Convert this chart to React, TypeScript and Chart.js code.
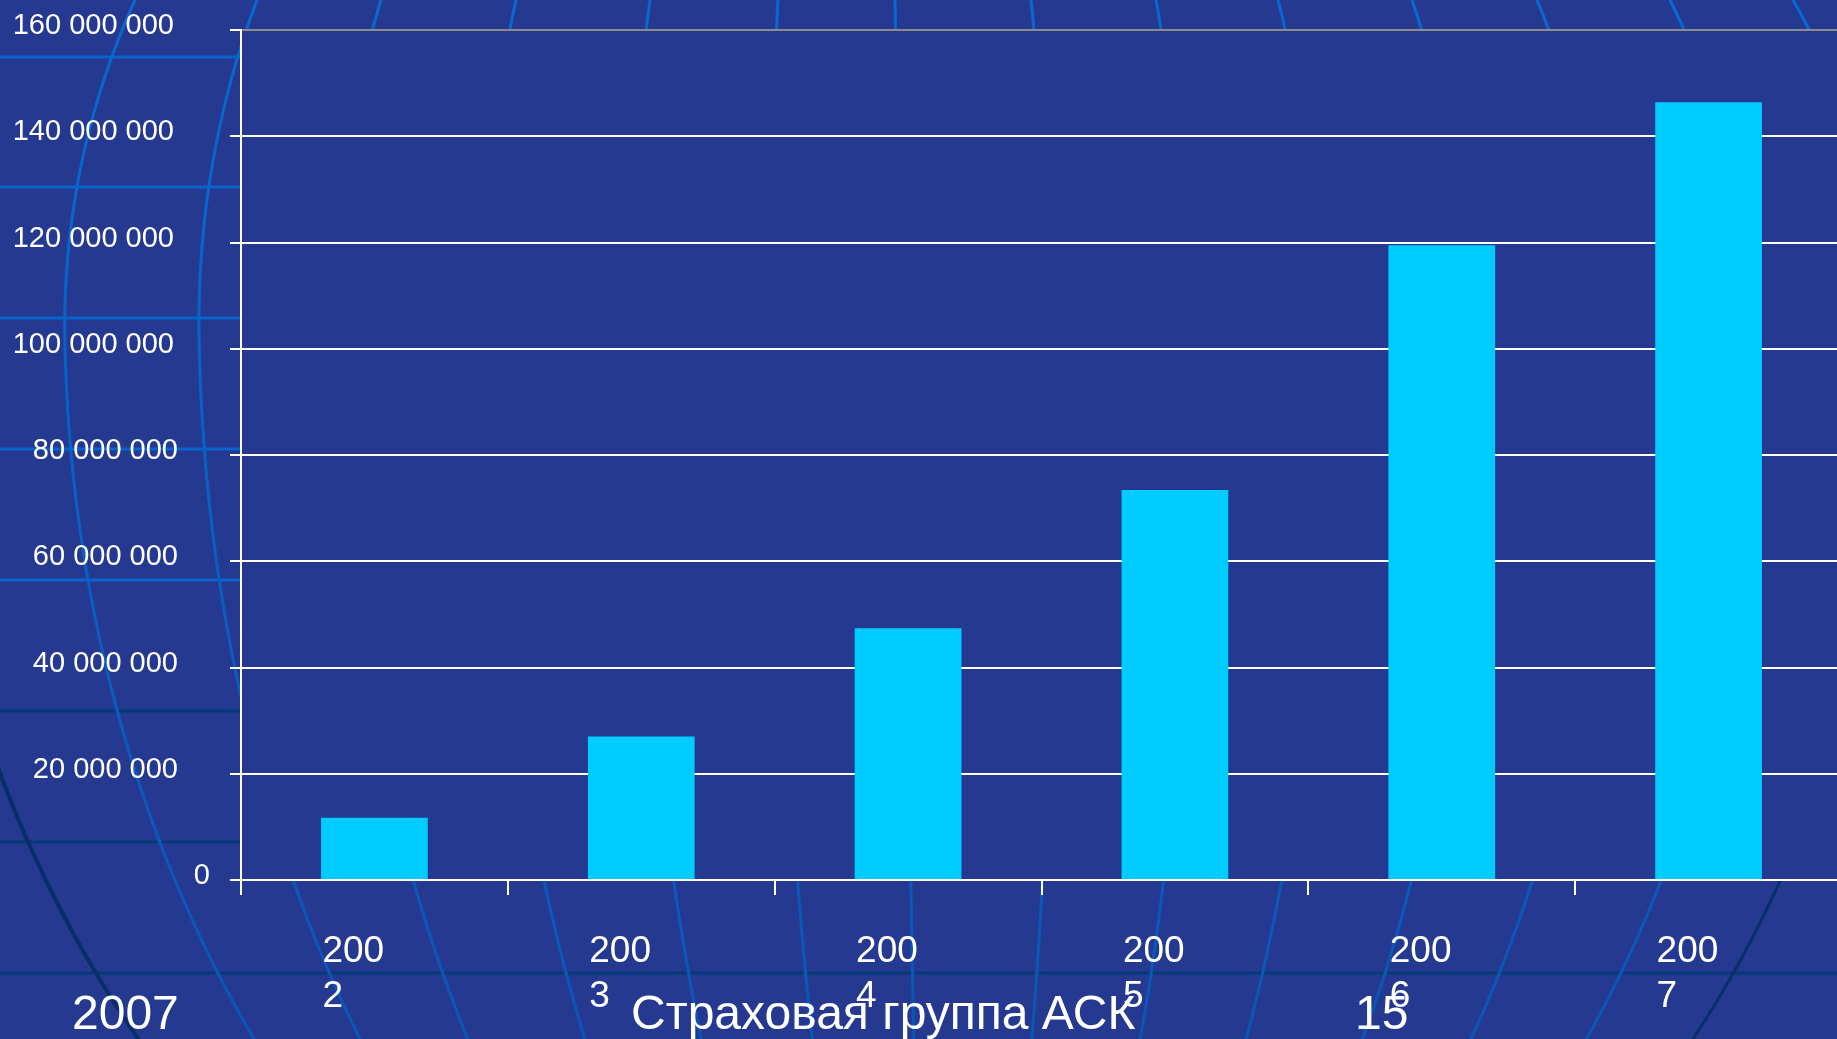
import React, { useEffect, useRef } from 'react';
import { Chart, registerables } from 'chart.js';

Chart.register(...registerables);

// ---- data ----
const categories: string[] = ['2002', '2003', '2004', '2005', '2006', '2007'];
const premiums: number[] = [11700000, 27000000, 47400000, 73400000, 119500000, 146400000];
const yMin = 0;
const yMax = 160000000;
const yStep = 20000000;
const footerLeft = '2007';
const footerCenter = 'Страховая группа АСК';
const footerRight = '15';

// ---- style ----
const BG = '#24398F';
const BAR = '#00CCFF';
const FONT = '"Liberation Sans", Arial, sans-serif';
const CANVAS_W = 1842; // plot area runs slightly past the visible right edge
const CANVAS_H = 1039;

// decorative globe (slide background)
const globeLatitudes = [57, 187, 318, 449, 580, 711, 842, 973];
const globeMeridianTops = [135, 257, 381, 516, 650, 778, 895, 1031, 1156, 1278, 1412, 1537, 1670, 1793];

const fmt = (v: number) => Math.round(v).toString().replace(/\B(?=(\d{3})+(?!\d))/g, ' ');

const globePlugin = {
  id: 'globeBackground',
  beforeDraw(chart: any) {
    const { ctx, width, height, chartArea } = chart;
    ctx.save();
    ctx.fillStyle = BG;
    ctx.fillRect(0, 0, width, height);

    // latitude lines
    globeLatitudes.forEach((y, i) => {
      ctx.strokeStyle = i < 5 ? '#0863CE' : '#053A78';
      ctx.lineWidth = 3;
      ctx.beginPath();
      ctx.moveTo(0, y);
      ctx.lineTo(width, y);
      ctx.stroke();
    });

    // meridians
    const eq = 340;
    const h = (y: number) => {
      const R = y < eq ? 815 : 1137;
      const t = (y - eq) / R;
      return Math.sqrt(Math.max(0, 1 - t * t));
    };
    const cxAt = (y: number) => 895 + 0.018 * y;
    const h0 = h(0);
    const trace = (a: number, y0: number) => {
      ctx.beginPath();
      for (let y = y0; y <= height + 8; y += 6) {
        const x = cxAt(y) + a * h(y);
        if (y === y0) ctx.moveTo(x, y); else ctx.lineTo(x, y);
      }
      ctx.stroke();
    };
    ctx.lineWidth = 3;
    globeMeridianTops.forEach((xt, i) => {
      const a = (xt - 895) / h0;
      const grad = ctx.createLinearGradient(0, 0, 0, height);
      if (i === globeMeridianTops.length - 1) {
        grad.addColorStop(0, '#0868D4');
        grad.addColorStop(0.62, '#0868D4');
        grad.addColorStop(0.75, '#062F6A');
        grad.addColorStop(1, '#062F6A');
      } else {
        grad.addColorStop(0, '#0868D4');
        grad.addColorStop(1, '#0A56B6');
      }
      ctx.strokeStyle = grad;
      trace(a, 0);
    });
    // outer dark meridian (lower left)
    ctx.strokeStyle = '#062F6A';
    ctx.lineWidth = 4;
    trace(-983, 540);

    // plot area fill
    ctx.fillStyle = BG;
    ctx.fillRect(chartArea.left, chartArea.top, chartArea.right - chartArea.left, chartArea.bottom - chartArea.top);
    ctx.restore();
  },
};

const labelsPlugin = {
  id: 'slideLabels',
  afterDraw(chart: any) {
    const { ctx } = chart;
    const ys = chart.scales.y;
    const xs = chart.scales.x;
    ctx.save();
    ctx.fillStyle = '#ffffff';
    ctx.textBaseline = 'alphabetic';

    ctx.font = `29px ${FONT}`;
    ctx.textAlign = 'right';
    ys.ticks.forEach((t: any) => {
      const s = fmt(t.value);
      const right = s.length >= 11 ? 174 : s.length > 1 ? 178 : 210;
      ctx.fillText(s, right, ys.getPixelForValue(t.value) + 4);
    });

    ctx.font = `37px ${FONT}`;
    ctx.textAlign = 'left';
    categories.forEach((c, i) => {
      const x = xs.getPixelForValue(i) - 52;
      ctx.fillText(c.slice(0, 3), x, 962);
      ctx.fillText(c.slice(3), x, 1007);
    });

    ctx.font = `48px ${FONT}`;
    ctx.fillText(footerLeft, 72, 1029);
    ctx.fillText(footerCenter, 631, 1029);
    ctx.fillText(footerRight, 1355, 1029);
    ctx.restore();
  },
};

export default function App() {
  const canvasRef = useRef<HTMLCanvasElement | null>(null);

  useEffect(() => {
    const canvas = canvasRef.current;
    if (!canvas) return;
    const chart = new Chart(canvas, {
      type: 'bar',
      data: {
        labels: categories,
        datasets: [
          {
            data: premiums,
            backgroundColor: BAR,
            borderWidth: 0,
            barPercentage: 0.4,
            categoryPercentage: 1,
          },
        ],
      },
      options: {
        responsive: false,
        animation: false,
        devicePixelRatio: 1,
        layout: { padding: { top: 30, left: 0, right: 0, bottom: 0 } },
        plugins: { legend: { display: false }, tooltip: { enabled: false } },
        scales: {
          x: {
            grid: {
              display: true,
              drawOnChartArea: false,
              drawTicks: true,
              tickLength: 15,
              color: '#ffffff',
              lineWidth: 2,
              offset: true,
            },
            border: { display: true, color: '#ffffff', width: 2 },
            ticks: { display: false },
            afterFit(s: any) {
              s.height = 159;
            },
          },
          y: {
            min: yMin,
            max: yMax,
            ticks: { display: false, stepSize: yStep },
            grid: {
              color: (c: any) => (c.tick && c.tick.value === yMax ? '#8c8c8c' : '#ffffff'),
              tickColor: '#ffffff',
              lineWidth: 2,
              tickLength: 11,
              drawTicks: true,
            },
            border: { display: true, color: '#ffffff', width: 2 },
            afterFit(s: any) {
              s.width = 241;
            },
          },
        },
      },
      plugins: [globePlugin, labelsPlugin],
    } as any);
    return () => chart.destroy();
  }, []);

  return (
    <div style={{ position: 'fixed', left: 0, top: 0, width: 1837, height: 1039, background: BG, overflow: 'hidden' }}>
      <canvas
        ref={canvasRef}
        width={CANVAS_W}
        height={CANVAS_H}
        style={{ display: 'block', width: CANVAS_W, height: CANVAS_H }}
      />
    </div>
  );
}
